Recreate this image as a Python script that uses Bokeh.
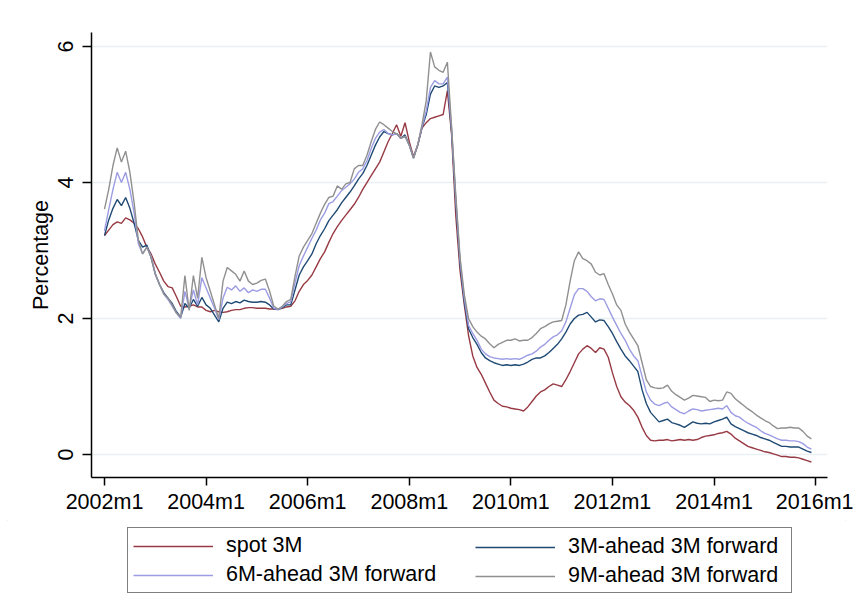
from bokeh.plotting import figure
from bokeh.layouts import column
from bokeh.models import ColumnDataSource, FixedTicker, Legend, LegendItem, Range1d
from bokeh.embed import file_html
from bokeh.resources import INLINE

# Monthly observations, 2002m1 .. 2015m12 (month index 0 = 2002m1)
months = list(range(168))

spot_3m = [
    3.22, 3.30, 3.38, 3.42, 3.40, 3.48, 3.45, 3.40, 3.32, 3.20, 3.05, 2.95,
    2.80, 2.68, 2.55, 2.47, 2.45, 2.32, 2.18, 2.17, 2.18, 2.20, 2.17, 2.17,
    2.12, 2.10, 2.12, 2.10, 2.09, 2.10, 2.12, 2.13, 2.13, 2.15, 2.16, 2.16,
    2.15, 2.15, 2.15, 2.14, 2.14, 2.14, 2.15, 2.17, 2.18, 2.26, 2.40, 2.50,
    2.56, 2.64, 2.76, 2.88, 2.98, 3.12, 3.25, 3.35, 3.44, 3.52, 3.60, 3.68,
    3.78, 3.90, 4.00, 4.10, 4.20, 4.30, 4.45, 4.60, 4.72, 4.85, 4.68, 4.88,
    4.60, 4.38, 4.55, 4.80, 4.88, 4.94, 4.96, 4.98, 5.00, 5.35, 4.70, 3.50,
    2.70, 2.20, 1.75, 1.45, 1.28, 1.18, 1.05, 0.92, 0.80, 0.75, 0.71, 0.70,
    0.68, 0.67, 0.66, 0.64, 0.70, 0.78, 0.86, 0.92, 0.95, 1.00, 1.04, 1.02,
    1.00, 1.10, 1.22, 1.35, 1.48, 1.55, 1.60, 1.56, 1.50, 1.57, 1.55, 1.43,
    1.20, 1.00, 0.85, 0.77, 0.72, 0.65, 0.55, 0.40, 0.28, 0.21, 0.20, 0.21,
    0.21, 0.22, 0.20, 0.21, 0.22, 0.21, 0.22, 0.21, 0.22, 0.25, 0.27, 0.28,
    0.29, 0.31, 0.32, 0.34, 0.30, 0.24, 0.20, 0.16, 0.12, 0.10, 0.08, 0.06,
    0.04, 0.03, 0.01, -0.01, -0.03, -0.03, -0.04, -0.04, -0.05, -0.07, -0.09, -0.11,
]

fwd_3m_ahead = [
    3.22, 3.45, 3.62, 3.75, 3.66, 3.78, 3.62, 3.40, 3.15, 3.05, 3.08, 2.90,
    2.65, 2.50, 2.38, 2.30, 2.22, 2.10, 2.02, 2.22, 2.15, 2.28, 2.18, 2.31,
    2.20, 2.15, 2.05, 1.95, 2.15, 2.24, 2.22, 2.25, 2.23, 2.27, 2.25, 2.24,
    2.24, 2.25, 2.24, 2.20, 2.14, 2.13, 2.16, 2.20, 2.20, 2.42, 2.64, 2.76,
    2.85, 2.95, 3.10, 3.22, 3.32, 3.44, 3.52, 3.60, 3.70, 3.78, 3.86, 3.95,
    4.05, 4.13, 4.25, 4.40, 4.55, 4.67, 4.75, 4.72, 4.70, 4.72, 4.65, 4.70,
    4.55, 4.36, 4.55, 4.81, 5.00, 5.30, 5.42, 5.40, 5.42, 5.47, 4.75, 3.70,
    2.80, 2.25, 1.85, 1.72, 1.62, 1.50, 1.42, 1.38, 1.35, 1.33, 1.31, 1.32,
    1.31, 1.32, 1.31, 1.33, 1.36, 1.40, 1.42, 1.42, 1.45, 1.50, 1.56, 1.62,
    1.70, 1.80, 1.92, 2.00, 2.05, 2.06, 2.09, 2.02, 1.95, 1.98, 1.97, 1.88,
    1.78, 1.66, 1.55, 1.45, 1.38, 1.30, 1.22, 0.95, 0.75, 0.62, 0.55, 0.48,
    0.50, 0.52, 0.47, 0.45, 0.43, 0.40, 0.44, 0.48, 0.46, 0.45, 0.46, 0.45,
    0.48, 0.50, 0.52, 0.55, 0.45, 0.41, 0.38, 0.35, 0.32, 0.30, 0.28, 0.25,
    0.23, 0.21, 0.18, 0.15, 0.12, 0.12, 0.11, 0.11, 0.11, 0.08, 0.05, 0.03,
]

fwd_6m_ahead = [
    3.29, 3.60, 3.90, 4.15, 4.00, 4.15, 3.90, 3.55, 3.10, 2.95, 3.05, 2.92,
    2.66, 2.50, 2.36, 2.28, 2.18, 2.08, 2.00, 2.40, 2.15, 2.42, 2.20, 2.60,
    2.45, 2.30, 2.15, 1.98, 2.30, 2.46, 2.42, 2.48, 2.40, 2.45, 2.38, 2.42,
    2.40, 2.43, 2.43, 2.30, 2.15, 2.13, 2.17, 2.22, 2.25, 2.52, 2.78, 2.92,
    3.05, 3.18, 3.30, 3.45, 3.55, 3.69, 3.72, 3.80, 3.88, 3.93, 3.98, 4.05,
    4.15, 4.20, 4.32, 4.50, 4.65, 4.74, 4.78, 4.72, 4.70, 4.72, 4.65, 4.68,
    4.55, 4.36, 4.55, 4.82, 5.05, 5.40, 5.50, 5.45, 5.45, 5.55, 4.78, 3.75,
    2.85, 2.30, 1.90, 1.78, 1.68, 1.55, 1.48, 1.44, 1.42, 1.41, 1.40, 1.41,
    1.40, 1.41, 1.40, 1.43, 1.46, 1.48, 1.52, 1.58, 1.62, 1.68, 1.73, 1.76,
    1.82, 1.95, 2.15, 2.35, 2.44, 2.44, 2.40, 2.32, 2.26, 2.29, 2.28, 2.15,
    2.02, 1.90, 1.78, 1.68, 1.55, 1.45, 1.38, 1.15, 0.92, 0.80, 0.74, 0.72,
    0.75, 0.77, 0.70, 0.66, 0.62, 0.60, 0.64, 0.67, 0.66, 0.64, 0.65, 0.66,
    0.67, 0.68, 0.67, 0.72, 0.62, 0.57, 0.55, 0.50, 0.46, 0.43, 0.40, 0.35,
    0.31, 0.29, 0.26, 0.23, 0.21, 0.21, 0.20, 0.20, 0.19, 0.16, 0.11, 0.08,
]

fwd_9m_ahead = [
    3.61, 3.90, 4.25, 4.51, 4.30, 4.46, 4.15, 3.70, 3.15, 2.95, 3.05, 2.90,
    2.66, 2.50, 2.36, 2.30, 2.20, 2.08, 2.02, 2.63, 2.12, 2.63, 2.30, 2.90,
    2.60, 2.40, 2.20, 2.00, 2.55, 2.75, 2.70, 2.65, 2.55, 2.70, 2.55, 2.50,
    2.52, 2.56, 2.58, 2.40, 2.18, 2.14, 2.18, 2.25, 2.28, 2.62, 2.92, 3.05,
    3.15, 3.25, 3.40, 3.55, 3.68, 3.78, 3.80, 3.95, 3.90, 3.98, 4.00, 4.20,
    4.25, 4.25, 4.40, 4.60, 4.78, 4.89, 4.85, 4.80, 4.75, 4.72, 4.65, 4.68,
    4.55, 4.36, 4.55, 4.85, 5.20, 5.92, 5.70, 5.65, 5.62, 5.77, 4.82, 3.80,
    2.90, 2.35, 2.00, 1.88, 1.80, 1.74, 1.70, 1.63, 1.57, 1.62, 1.65, 1.68,
    1.68, 1.70, 1.67, 1.68, 1.68, 1.72, 1.78, 1.85, 1.88, 1.92, 1.95, 1.96,
    1.97, 2.20, 2.55, 2.85, 2.98, 2.88, 2.85, 2.80, 2.68, 2.64, 2.66, 2.50,
    2.36, 2.20, 2.12, 1.92, 1.80, 1.70, 1.60, 1.35, 1.10, 1.00, 0.98, 0.97,
    0.98, 1.02, 0.93, 0.88, 0.84, 0.80, 0.83, 0.87, 0.86, 0.85, 0.84, 0.78,
    0.80, 0.79, 0.80, 0.92, 0.90, 0.82, 0.77, 0.72, 0.67, 0.63, 0.58, 0.54,
    0.50, 0.47, 0.42, 0.38, 0.39, 0.39, 0.40, 0.39, 0.39, 0.34, 0.27, 0.23,
]

series_names = ["spot 3M", "3M-ahead 3M forward", "6M-ahead 3M forward", "9M-ahead 3M forward"]
series_colors = ["#983a44", "#1f4a74", "#9c9ce4", "#909090"]

x_ticks = [0, 24, 48, 72, 96, 120, 144, 168]
x_tick_labels = ["2002m1", "2004m1", "2006m1", "2008m1", "2010m1", "2012m1", "2014m1", "2016m1"]
y_ticks = [0, 2, 4, 6]

FONT = "Liberation Sans"
FS = "21.5px"
LINE_W = 1.4

src = ColumnDataSource(dict(
    m=months, s0=spot_3m, s1=fwd_3m_ahead, s2=fwd_6m_ahead, s3=fwd_9m_ahead,
))

# ---- main time-series panel ----
p = figure(
    width=853, height=520,
    output_backend="svg", toolbar_location=None,
    x_range=Range1d(-3.07, 170.8), y_range=Range1d(-0.338, 6.206),
    min_border_left=91, min_border_right=26, min_border_top=32, min_border_bottom=43,
    background_fill_color="white", border_fill_color="white",
    outline_line_color=None,
)

for i, col in enumerate(series_colors):
    p.line("m", f"s{i}", source=src, line_color=col, line_width=LINE_W)

p.xaxis.ticker = FixedTicker(ticks=x_ticks)
p.xaxis.major_label_overrides = {t: lab for t, lab in zip(x_ticks, x_tick_labels)}
p.yaxis.ticker = FixedTicker(ticks=y_ticks)
p.yaxis.axis_label = "Percentage"
p.yaxis.major_label_orientation = "vertical"

for ax in (p.xaxis[0], p.yaxis[0]):
    ax.axis_line_color = "black"
    ax.axis_line_width = 1.5
    ax.major_tick_line_color = "black"
    ax.major_tick_line_width = 1.5
    ax.major_tick_in = 0
    ax.minor_tick_line_color = None
    ax.major_label_text_font = FONT
    ax.major_label_text_font_size = FS
    ax.major_label_text_color = "black"
    ax.axis_label_text_font = FONT
    ax.axis_label_text_font_size = FS
    ax.axis_label_text_font_style = "normal"
    ax.axis_label_text_color = "black"

p.xaxis.major_tick_out = 8
p.xaxis.major_label_standoff = 4
p.yaxis.major_tick_out = 9
p.yaxis.major_label_standoff = 9
p.yaxis.axis_label_standoff = 3

p.xgrid.grid_line_color = None
p.ygrid.grid_line_color = "#e8f0f2"
p.ygrid.grid_line_width = 1.5

# ---- legend strip underneath ----
# the same series are attached here (outside the visible x range) so the
# legend keys have renderers of their own to draw from
leg = figure(
    width=853, height=96,
    output_backend="svg", toolbar_location=None,
    x_range=Range1d(1000, 1001), y_range=Range1d(0, 1),
    x_axis_location=None, y_axis_location=None,
    min_border=0, outline_line_color=None,
    background_fill_color="white", border_fill_color="white",
)
leg.xgrid.grid_line_color = None
leg.ygrid.grid_line_color = None
key_renderers = [
    leg.line("m", f"s{i}", source=src, line_color=col, line_width=LINE_W)
    for i, col in enumerate(series_colors)
]

common = dict(
    orientation="vertical",
    glyph_width=80, glyph_height=24, label_height=24,
    label_standoff=13, spacing=4, padding=5, margin=0,
    label_text_font=FONT, label_text_font_size=FS, label_text_color="black",
    border_line_color="black", border_line_width=1.5,
    background_fill_color="white",
)

# left column carries the framed box spanning both columns
legend_left = Legend(
    items=[LegendItem(label=series_names[k], renderers=[key_renderers[k]]) for k in (0, 2)],
    location=(36, 23),
    label_width=560,
    **common,
)
legend_right = Legend(
    items=[LegendItem(label=series_names[k], renderers=[key_renderers[k]]) for k in (1, 3)],
    location=(379, 23),
    **common,
)
legend_right.border_line_alpha = 0
legend_right.background_fill_alpha = 0
leg.add_layout(legend_left)
leg.add_layout(legend_right)

layout = column(p, leg, spacing=0)
layout.styles = {"outline": "1px solid #e4ecef", "outline-offset": "-8px"}

open("out.html", "w").write(file_html(layout, INLINE))
